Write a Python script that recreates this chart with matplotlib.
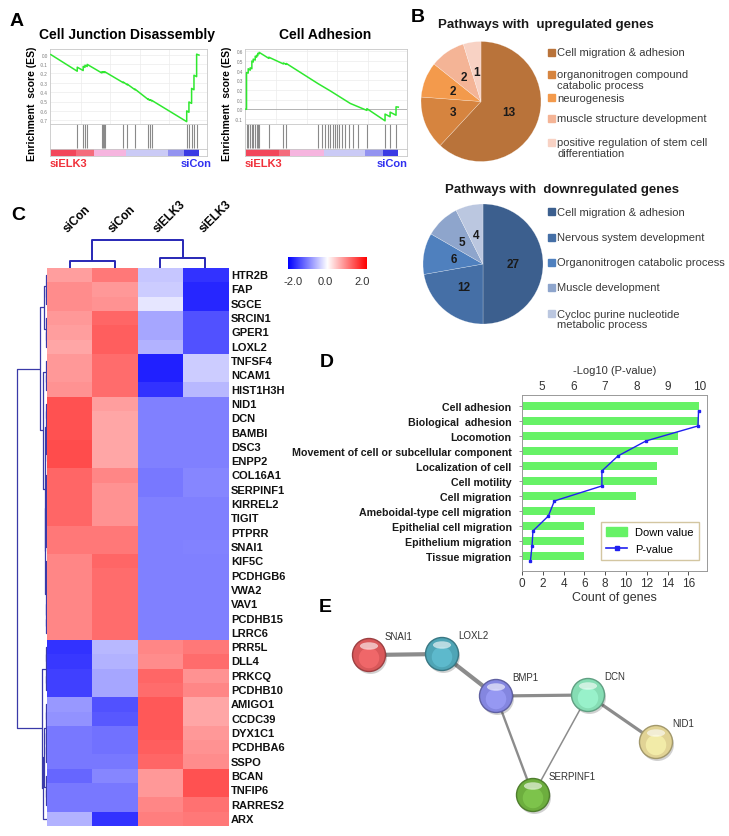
import matplotlib
matplotlib.use('Agg')
import matplotlib.pyplot as plt
import numpy as np
from matplotlib.patches import Rectangle, Circle, Ellipse, Patch
from matplotlib.lines import Line2D

plt.rcParams['font.family'] = ['Liberation Sans', 'DejaVu Sans']

W, H = 729, 837
fig = plt.figure(figsize=(W / 100, H / 100), dpi=100)


def axp(x0, y0, x1, y1, **kw):
    return fig.add_axes([x0 / W, 1 - y1 / H, (x1 - x0) / W, (y1 - y0) / H], **kw)


def fx(x):
    return x / W


def fy(y):
    return 1 - y / H


# ---------------- DATA ----------------
# Panel A : GSEA running enrichment scores (rank fraction, ES)
cjd_x = [0, 0.178, 0.178, 0.218, 0.218, 0.230, 0.230, 0.245, 0.245, 0.342, 0.342, 0.349, 0.349,
         0.356, 0.356, 0.365, 0.365, 0.489, 0.489, 0.516, 0.516, 0.568, 0.568, 0.658, 0.658,
         0.669, 0.669, 0.680, 0.680, 0.917, 0.917, 0.932, 0.932, 0.950, 0.950, 0.966, 0.966,
         0.984, 0.984, 1.0]
cjd_y = [0, -0.177, -0.134, -0.170, -0.125, -0.136, -0.113, -0.127, -0.104, -0.194, -0.186, -0.192,
         -0.184, -0.190, -0.183, -0.191, -0.184, -0.300, -0.293, -0.322, -0.315, -0.375, -0.368,
         -0.480, -0.474, -0.487, -0.481, -0.493, -0.487, -0.715, -0.600, -0.615, -0.505, -0.520,
         -0.360, -0.375, -0.220, -0.235, 0.005, -0.005]
cjd_hits = [0.178, 0.218, 0.230, 0.245, 0.342, 0.349, 0.356, 0.365, 0.489, 0.516, 0.568, 0.658,
            0.669, 0.680, 0.917, 0.932, 0.950, 0.966, 0.984]
cjd_ticks = [0.0, -0.1, -0.2, -0.3, -0.4, -0.5, -0.6, -0.7]

ca_x = [0, 0.004, 0.004, 0.015, 0.015, 0.028, 0.028, 0.039, 0.039, 0.048, 0.048, 0.061, 0.061,
        0.070, 0.070, 0.078, 0.078, 0.087, 0.087, 0.150, 0.150, 0.246, 0.246, 0.265, 0.265,
        0.474, 0.554, 0.685, 0.794, 0.794, 0.913, 0.913, 0.946, 0.946, 0.985, 0.985, 1.0]
ca_y = [0, 0.0, 0.380, 0.375, 0.420, 0.405, 0.430, 0.420, 0.500, 0.490, 0.520, 0.510, 0.550,
        0.540, 0.560, 0.555, 0.580, 0.575, 0.590, 0.528, 0.540, 0.470, 0.480, 0.465, 0.475,
        0.265, 0.190, 0.060, -0.012, 0.006, -0.120, -0.050, -0.078, -0.030, -0.062, 0.025, 0.022]
ca_hits = [0.004, 0.015, 0.028, 0.039, 0.048, 0.061, 0.070, 0.078, 0.087, 0.150, 0.246, 0.265,
           0.474, 0.496, 0.522, 0.539, 0.554, 0.570, 0.583, 0.598, 0.613, 0.631, 0.652, 0.674,
           0.700, 0.735, 0.794, 0.913, 0.946, 0.985]
ca_ticks = [0.6, 0.5, 0.4, 0.3, 0.2, 0.1, 0.0, -0.1]

rank_cols = ['#F2465A', '#F46C7C', '#F6B5DF', '#CBCBF6', '#9393F0', '#3A3AE4']
cjd_edges = [0, 0.17, 0.29, 0.51, 0.79, 0.90, 1.0]
ca_edges = [0, 0.22, 0.29, 0.51, 0.78, 0.90, 1.0]

# Panel B : pies
up_labels = ['Cell migration & adhesion', 'organonitrogen compound\ncatabolic process',
             'neurogenesis', 'muscle structure development',
             'positive regulation of stem cell\ndifferentiation']
up_values = [13, 3, 2, 2, 1]
up_colors = ['#B9733A', '#D6843F', '#F39A4C', '#F4B496', '#F8D2C4']
dn_labels = ['Cell migration & adhesion', 'Nervous system development',
             'Organonitrogen catabolic process', 'Muscle development',
             'Cycloc purine nucleotide\nmetabolic process']
dn_values = [27, 12, 6, 5, 4]
dn_colors = ['#3C5F8E', '#456FA6', '#4F80BE', '#8EA5CC', '#BBC7E0']

# Panel C : heatmap
samples = ['siCon', 'siCon', 'siELK3', 'siELK3']
genes = ['HTR2B', 'FAP', 'SGCE', 'SRCIN1', 'GPER1', 'LOXL2', 'TNFSF4', 'NCAM1', 'HIST1H3H',
         'NID1', 'DCN', 'BAMBI', 'DSC3', 'ENPP2', 'COL16A1', 'SERPINF1', 'KIRREL2', 'TIGIT',
         'PTPRR', 'SNAI1', 'KIF5C', 'PCDHGB6', 'VWA2', 'VAV1', 'PCDHB15', 'LRRC6', 'PRR5L',
         'DLL4', 'PRKCQ', 'PCDHB10', 'AMIGO1', 'CCDC39', 'DYX1C1', 'PCDHBA6', 'SSPO', 'BCAN',
         'TNFIP6', 'RARRES2', 'ARX']
heat = [
    [0.75, 1.05, -0.45, -1.60],
    [0.90, 0.80, -0.40, -1.70],
    [0.90, 0.85, -0.20, -1.70],
    [0.80, 1.20, -0.70, -1.35],
    [0.75, 1.25, -0.70, -1.35],
    [0.70, 1.25, -0.60, -1.35],
    [0.80, 1.15, -1.75, -0.40],
    [0.80, 1.15, -1.75, -0.40],
    [0.85, 1.15, -1.60, -0.55],
    [1.35, 0.75, -1.00, -1.00],
    [1.35, 0.70, -1.00, -1.00],
    [1.35, 0.70, -1.00, -1.00],
    [1.40, 0.70, -1.00, -1.00],
    [1.40, 0.70, -1.00, -1.00],
    [1.20, 0.95, -1.05, -0.95],
    [1.20, 0.85, -1.05, -0.95],
    [1.20, 0.85, -1.00, -1.00],
    [1.20, 0.85, -1.00, -1.00],
    [1.05, 1.05, -1.00, -1.00],
    [1.05, 1.05, -1.00, -0.98],
    [0.95, 1.20, -1.00, -1.00],
    [0.95, 1.15, -1.00, -1.00],
    [0.95, 1.15, -1.00, -1.00],
    [0.95, 1.15, -1.00, -1.00],
    [0.95, 1.15, -1.00, -1.00],
    [0.95, 1.15, -1.00, -1.00],
    [-1.60, -0.55, 0.95, 1.05],
    [-1.55, -0.60, 0.90, 1.15],
    [-1.50, -0.70, 1.20, 0.85],
    [-1.50, -0.70, 1.15, 0.95],
    [-0.80, -1.35, 1.30, 0.70],
    [-0.85, -1.30, 1.30, 0.70],
    [-1.05, -1.10, 1.30, 0.80],
    [-1.05, -1.10, 1.25, 0.85],
    [-1.05, -1.05, 1.20, 0.90],
    [-1.20, -0.95, 0.80, 1.35],
    [-1.05, -1.05, 0.80, 1.35],
    [-1.05, -1.05, 0.95, 1.10],
    [-0.60, -1.60, 1.00, 1.05],
]


def bal(leaves, h):
    leaves = list(leaves)
    if len(leaves) == 1:
        return leaves[0]
    m = len(leaves) // 2
    return (h, bal(leaves[:m], h * 0.7), bal(leaves[m:], h * 0.7))


row_tree = (1.0,
            (0.23, (0.10, bal([0, 1, 2], 0.04), bal([3, 4, 5], 0.04)),
             (0.14, bal([6, 7, 8], 0.04), (0.08, bal(range(9, 14), 0.03), bal(range(14, 26), 0.05)))),
            (0.17, bal(range(26, 30), 0.04),
             (0.13, (0.09, bal(range(30, 35), 0.04), bal([35, 36, 37], 0.03)), 38)))
col_tree = (28, (7, 0, 1), (10, 2, 3))

# Panel D
d_terms = ['Cell adhesion', 'Biological  adhesion', 'Locomotion',
           'Movement of cell or subcellular component', 'Localization of cell', 'Cell motility',
           'Cell migration', 'Ameboidal-type cell migration', 'Epithelial cell migration',
           'Epithelium migration', 'Tissue migration']
d_counts = [17, 17, 15, 15, 13, 13, 11, 7, 6, 6, 6]
d_logp = [9.97, 9.95, 8.30, 7.41, 6.90, 6.90, 5.39, 5.20, 4.71, 4.68, 4.63]

# Panel E : STRING network (layout positions in pixels)
net_nodes = ['SNAI1', 'LOXL2', 'BMP1', 'DCN', 'NID1', 'SERPINF1']
node_x = [369, 442, 496, 588, 656, 533]
node_y = [656, 655, 697, 696, 743, 796]
node_colors = ['#D9585A', '#4FA5B6', '#8486E0', '#86DDB4', '#E1D395', '#6DAE3E']
net_edges = [(0, 1), (1, 2), (2, 3), (3, 4), (2, 5), (3, 5)]
edge_widths = [3.0, 3.0, 2.3, 2.3, 1.7, 1.1]

TXT = '#333333'

# ---------------- Panel labels ----------------
for lab, (x, y) in {'A': (17, 22), 'B': (418, 18), 'C': (18, 216), 'D': (327, 363),
                    'E': (325, 608)}.items():
    fig.text(fx(x), fy(y), lab, fontsize=14, fontweight='bold', ha='center', va='center')


# ---------------- Panel A ----------------
def gsea(x0, x1, xmax, cx, cy, hits, ylim, yticks, edges, title, title_x, ylab_x, zero_line):
    es = axp(x0, 50, x1, 125)
    es.plot(cx, cy, color='#2FE82F', lw=1.1, zorder=3)
    if zero_line:
        es.axhline(0, color='#AAAAAA', lw=0.6, zorder=2)
    es.set_xlim(-0.006, xmax)
    es.set_ylim(*ylim)
    es.set_yticks(yticks)
    es.set_yticklabels([f'{t:.1f}' for t in yticks], fontsize=3.3, color='#777777')
    es.set_xticks([0.2, 0.4, 0.6, 0.8])
    es.tick_params(length=0, pad=1.5, labelbottom=False)
    es.grid(True, color='#ECECEC', lw=0.5)
    for s in es.spines.values():
        s.set_color('#C8C8C8')
        s.set_linewidth(0.6)
    hit = axp(x0, 125, x1, 150)
    hit.vlines(hits, 0.06, 1.0, color='#8A8A8A', lw=0.8)
    hit.set_xlim(-0.006, xmax)
    hit.set_ylim(0, 1)
    hit.set_xticks([])
    hit.set_yticks([])
    for s in hit.spines.values():
        s.set_color('#C8C8C8')
        s.set_linewidth(0.6)
    bar = axp(x0, 150, x1, 157)
    for i in range(len(rank_cols)):
        bar.axvspan(edges[i], edges[i + 1], color=rank_cols[i], lw=0)
    bar.set_xlim(-0.006, xmax)
    bar.set_xticks([])
    bar.set_yticks([])
    for s in bar.spines.values():
        s.set_color('#C8C8C8')
        s.set_linewidth(0.6)
    fig.text(fx(title_x), fy(35), title, fontsize=10, fontweight='bold', ha='center', va='center')
    fig.text(fx(ylab_x), fy(104), 'Enrichment  score (ES)', fontsize=7.5, fontweight='bold',
             rotation=90, ha='center', va='center')
    fig.text(fx(x0), fy(164), 'siELK3', fontsize=8, fontweight='bold', color='#F0303A',
             ha='left', va='center')


gsea(50, 207, 1.054, cjd_x, cjd_y, cjd_hits, (-0.74, 0.06), cjd_ticks, cjd_edges,
     'Cell Junction Disassembly', 127, 32, False)
fig.text(fx(212), fy(164), 'siCon', fontsize=8, fontweight='bold', color='#3030F0', ha='right',
         va='center')
gsea(245, 407, 1.057, ca_x, ca_y, ca_hits, (-0.153, 0.625), ca_ticks, ca_edges,
     'Cell Adhesion', 325, 227, True)
fig.text(fx(408), fy(164), 'siCon', fontsize=8, fontweight='bold', color='#3030F0', ha='right',
         va='center')


# ---------------- Panel B ----------------
def pie_panel(cx, cy, r, values, colors, labels, title, title_x, title_y, leg_ys):
    ax = axp(cx - r, cy - r, cx + r, cy + r)
    wedges, texts = ax.pie(values, colors=colors, startangle=90, counterclock=False,
                           labels=[str(v) for v in values], labeldistance=0.5,
                           wedgeprops=dict(linewidth=0.3, edgecolor=(1, 1, 1, 0.5)),
                           textprops=dict(fontsize=8.5, fontweight='bold', color='#1A1A1A'))
    for t in texts:
        t.set_ha('center')
        t.set_va('center')
    ax.set_xlim(-1, 1)
    ax.set_ylim(-1, 1)
    ax.set_aspect('equal')
    fig.text(fx(title_x), fy(title_y), title, fontsize=9.5, fontweight='bold', ha='center',
             va='center', color='#1A1A1A')
    for lab, col, y in zip(labels, colors, leg_ys):
        fig.patches.append(Rectangle((fx(548), fy(y + 3.5)), 7 / W, 7 / H, color=col,
                                     transform=fig.transFigure, figure=fig))
        fig.text(fx(557), fy(y - 4.5), lab, fontsize=8, color='#3A3A3A', ha='left', va='top',
                 linespacing=1.12)


pie_panel(481, 102.5, 60, up_values, up_colors, up_labels, 'Pathways with  upregulated genes',
          546, 25, [53, 75, 98, 119, 143])
pie_panel(483, 265, 60, dn_values, dn_colors, dn_labels, 'Pathways with  downregulated genes',
          562, 190, [212, 238, 263, 288, 314])

# ---------------- Panel C ----------------
hm = axp(47, 269, 228, 827)
hm.imshow(np.array(heat), cmap='bwr', vmin=-2, vmax=2, aspect='auto', interpolation='nearest')
hm.set_xticks([])
hm.set_yticks([])
for s in hm.spines.values():
    s.set_visible(False)
for i, g in enumerate(genes):
    fig.text(fx(231), fy(269 + (i + 0.5) * (558 / len(genes))), g, fontsize=8, fontweight='bold',
             ha='left', va='center', color='#111111')
for j, s in enumerate(samples):
    fig.text(fx(47 + (j + 0.5) * 45.25 - 2), fy(233), s, fontsize=8.5, fontweight='bold',
             rotation=45, rotation_mode='anchor', ha='left', va='baseline')


def draw_tree(ax, node, orient, **kw):
    if isinstance(node, int):
        return node + 0.5, 0.0
    h, l, r = node
    pl, hl = draw_tree(ax, l, orient, **kw)
    pr, hr = draw_tree(ax, r, orient, **kw)
    if orient == 'left':
        ax.plot([hl, h, h, hr], [pl, pl, pr, pr], **kw)
    else:
        ax.plot([pl, pl, pr, pr], [hl, h, h, hr], **kw)
    return (pl + pr) / 2, h


rd = axp(8, 269, 47, 827)
draw_tree(rd, row_tree, 'left', color='#3A3AA8', lw=0.9, solid_capstyle='butt')
rd.set_xlim(1.3, 0)
rd.set_ylim(len(genes), 0)
rd.axis('off')

cd = axp(47, 236, 228, 269)
draw_tree(cd, col_tree, 'top', color='#2727B5', lw=1.4, solid_capstyle='butt')
cd.set_xlim(0, 4)
cd.set_ylim(0, 33)
cd.axis('off')

cb = axp(288, 258, 367, 270)
cb.imshow(np.linspace(-2, 2, 256)[None, :], cmap='bwr', aspect='auto', vmin=-2, vmax=2)
cb.set_xticks([])
cb.set_yticks([])
for s in cb.spines.values():
    s.set_visible(False)
for v, x in zip(['-2.0', '0.0', '2.0'], [293, 325, 362]):
    fig.text(fx(x), fy(282), v, fontsize=8, ha='center', va='center', color=TXT)

# ---------------- Panel D ----------------
ad = axp(522, 396, 707, 572)
yy = np.arange(len(d_terms))
ad.barh(yy, d_counts, height=0.55, color='#66F266', zorder=2)
ad.set_xlim(0, 17.78)
ad.set_ylim(11.0, -0.733)
ad.set_yticks(yy)
ad.set_yticklabels(d_terms, fontsize=7.7, fontweight='bold', color='#1A1A1A')
ad.set_xticks(range(0, 17, 2))
ad.tick_params(axis='x', labelsize=8.5, colors=TXT, length=3, width=0.6, pad=1.5)
ad.tick_params(axis='y', length=2.5, width=0.6, pad=5, colors='#888888')
for t in ad.get_yticklabels():
    t.set_color('#1A1A1A')
for t in ad.get_xticklabels():
    t.set_color(TXT)
for s in ad.spines.values():
    s.set_color('#999999')
    s.set_linewidth(0.7)
ad.set_xlabel('Count of genes', fontsize=9, color=TXT, labelpad=1)
at = ad.twiny()
at.plot(d_logp, yy + 0.33, color='#2020F0', lw=1.0, marker='s', ms=1.8, zorder=3)
at.set_xlim(4.362, 10.238)
at.set_xticks([5, 6, 7, 8, 9, 10])
at.tick_params(axis='x', labelsize=8.5, colors=TXT, length=0, pad=2)
at.set_xlabel('-Log10 (P-value)', fontsize=8, color=TXT, labelpad=5)
for s in at.spines.values():
    s.set_visible(False)
handles = [Patch(color='#66F266'),
           Line2D([0], [0], color='#2020F0', lw=1.2, marker='s', ms=2.5)]
fig.legend(handles, ['Down value', 'P-value'], loc='upper left',
           bbox_to_anchor=(fx(600.5), fy(522.5)), frameon=True, fancybox=False,
           edgecolor='#C8B88A', handlelength=1.9, handleheight=0.8,
           borderpad=0.5, labelspacing=0.62, borderaxespad=0, handletextpad=0.7,
           prop={'size': 8})

# ---------------- Panel E ----------------
ae = axp(320, 600, 729, 837)
ae.set_xlim(320, 729)
ae.set_ylim(837, 600)
ae.axis('off')
for (a, b), w in zip(net_edges, edge_widths):
    ae.plot([node_x[a], node_x[b]], [node_y[a], node_y[b]], color='#8C8C8C', lw=w,
            solid_capstyle='butt', zorder=1)
R = 16.5
for name, x, y, c in zip(net_nodes, node_x, node_y, node_colors):
    ae.add_patch(Circle((x + 1.5, y + 2.5), R, color='#000000', alpha=0.18, lw=0, zorder=2))
    base = np.array(matplotlib.colors.to_rgb(c))
    dark = base * 0.72
    ae.add_patch(Circle((x, y), R, facecolor=c, edgecolor=dark, lw=1.0, zorder=3))
    ae.add_patch(Circle((x, y + 3), R * 0.62, facecolor=np.clip(base * 1.12 + 0.06, 0, 1),
                        edgecolor='none', alpha=0.6, zorder=3))
    ae.add_patch(Ellipse((x, y - 9), R * 1.1, R * 0.45, facecolor='white', alpha=0.6,
                         edgecolor='none', zorder=4))
    ae.text(x + 16, y - 19, name, fontsize=7, color=TXT, ha='left', va='center', zorder=5)

fig.savefig('out.png', dpi=100)
